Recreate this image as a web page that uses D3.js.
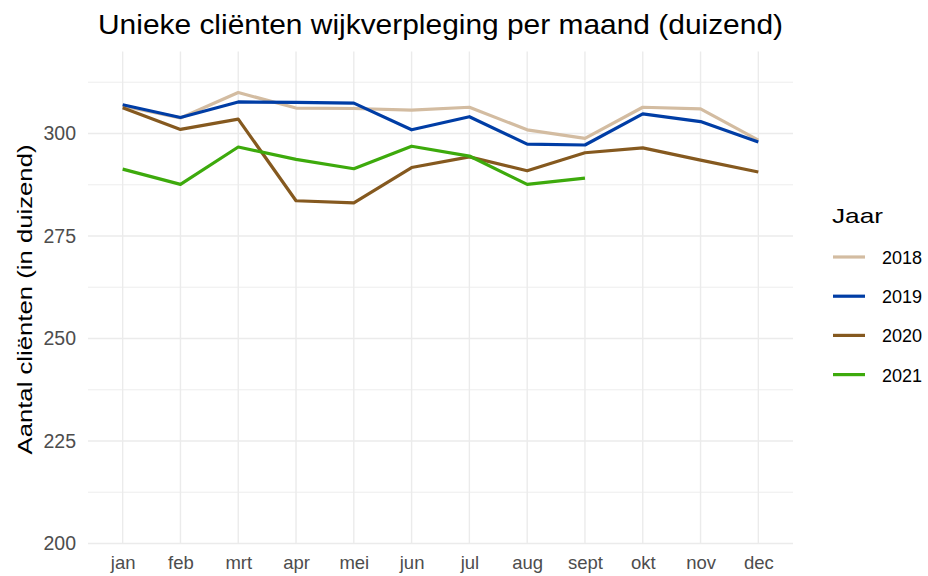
<!DOCTYPE html>
<html>
<head>
<meta charset="utf-8">
<script src="https://cdn.jsdelivr.net/npm/d3@7"></script>
<style>
  body { margin: 0; background: #fff; }
  text { font-family: "Liberation Sans", Arial, sans-serif; }
</style>
</head>
<body>
<svg id="chart"></svg>
<script>
// maanden op de x-as
const months = ['jan', 'feb', 'mrt', 'apr', 'mei', 'jun', 'jul', 'aug', 'sept', 'okt', 'nov', 'dec'];
const years = ['2018', '2019', '2020', '2021'];
const yTicks = [200, 225, 250, 275, 300];

// duizend clienten per maand
const v2018 = [306.7, 303.8, 310.0, 306.2, 306.1, 305.7, 306.4, 300.9, 298.8, 306.4, 306.0, 298.4];
const v2019 = [307.0, 303.9, 307.7, 307.6, 307.4, 300.9, 304.1, 297.4, 297.2, 304.8, 302.9, 297.9];
const v2020 = [306.3, 301.0, 303.5, 283.6, 283.1, 291.7, 294.3, 290.9, 295.3, 296.5, 293.5, 290.6];
const v2021 = [291.3, 287.6, 296.7, 293.7, 291.4, 296.9, 294.5, 287.6, 289.1];

const colors = ['#D3BCA1', '#003DA5', '#85591F', '#3DAA0C'];
const series = [v2018, v2019, v2020, v2021].map((vals, i) => ({
  year: years[i],
  color: colors[i],
  values: vals.map((v, j) => ({ m: months[j], v: v }))
}));

var width = 928;
var height = 576;
var margin = { left: 88, right: 135, top: 51.5, bottom: 32.5 };

var svg = d3.select('#chart').attr('width', width).attr('height', height);

var x = d3.scalePoint()
    .domain(months)
    .range([margin.left, width - margin.right])
    .padding(0.6);

var y = d3.scaleLinear()
    .domain([200, 320])
    .range([height - margin.bottom, margin.top]);

// grid
var grid = svg.append('g');
d3.range(212.5, 320, 25).forEach(d => {
  grid.append('line')
    .attr('x1', margin.left).attr('x2', width - margin.right)
    .attr('y1', y(d)).attr('y2', y(d))
    .attr('stroke', '#EBEBEB').attr('stroke-width', 0.9);
});
yTicks.forEach(d => {
  grid.append('line')
    .attr('x1', margin.left).attr('x2', width - margin.right)
    .attr('y1', y(d)).attr('y2', y(d))
    .attr('stroke', '#EBEBEB').attr('stroke-width', 1.4);
});
months.forEach(m => {
  grid.append('line')
    .attr('x1', x(m)).attr('x2', x(m))
    .attr('y1', margin.top).attr('y2', height - margin.bottom)
    .attr('stroke', '#EBEBEB').attr('stroke-width', 1.4);
});

// axes, no domain lines or ticks
var yAxis = svg.append('g')
    .attr('transform', `translate(${margin.left},0)`)
    .call(d3.axisLeft(y).tickValues(yTicks).tickSize(0).tickPadding(12));
var xAxis = svg.append('g')
    .attr('transform', `translate(0,${height - margin.bottom})`)
    .call(d3.axisBottom(x).tickSize(0).tickPadding(12));
[yAxis, xAxis].forEach(a => {
  a.select('.domain').remove();
  a.selectAll('text')
    .attr('fill', '#4D4D4D')
    .style('font-family', '"Liberation Sans", Arial, sans-serif');
});
yAxis.selectAll('text').style('font-size', '19.5px');
xAxis.selectAll('text').style('font-size', '18.5px');

// lines
var line = d3.line()
    .x(d => x(d.m))
    .y(d => y(d.v));

svg.append('g').selectAll('path')
  .data(series)
  .join('path')
    .attr('d', d => line(d.values))
    .attr('fill', 'none')
    .attr('stroke', d => d.color)
    .attr('stroke-width', 3.2)
    .attr('stroke-linejoin', 'round');

// title
svg.append('text')
    .attr('x', (margin.left + width - margin.right) / 2)
    .attr('y', 34)
    .attr('text-anchor', 'middle')
    .attr('textLength', 685)
    .attr('lengthAdjust', 'spacingAndGlyphs')
    .style('font-size', '28px')
    .attr('fill', '#000')
    .text('Unieke cliënten wijkverpleging per maand (duizend)');

// y label
svg.append('text')
    .attr('transform', `translate(32,${(margin.top + height - margin.bottom) / 2 + 2}) rotate(-90)`)
    .attr('text-anchor', 'middle')
    .attr('textLength', 310)
    .attr('lengthAdjust', 'spacingAndGlyphs')
    .style('font-size', '21px')
    .attr('fill', '#000')
    .text('Aantal cliënten (in duizend)');

// legend
var legend = svg.append('g').attr('transform', 'translate(831,0)');
legend.append('text')
    .attr('x', 1).attr('y', 223)
    .attr('textLength', 51)
    .attr('lengthAdjust', 'spacingAndGlyphs')
    .style('font-size', '21px')
    .attr('fill', '#000')
    .text('Jaar');

var items = legend.selectAll('g.item')
  .data(series)
  .join('g')
    .attr('class', 'item')
    .attr('transform', (d, i) => `translate(0,${257 + i * 39.2})`);
items.append('line')
    .attr('x1', 2).attr('x2', 34)
    .attr('stroke', d => d.color)
    .attr('stroke-width', 3.2);
items.append('text')
    .attr('x', 51).attr('y', 7)
    .style('font-size', '18px')
    .attr('fill', '#000')
    .text(d => d.year);
</script>
</body>
</html>
